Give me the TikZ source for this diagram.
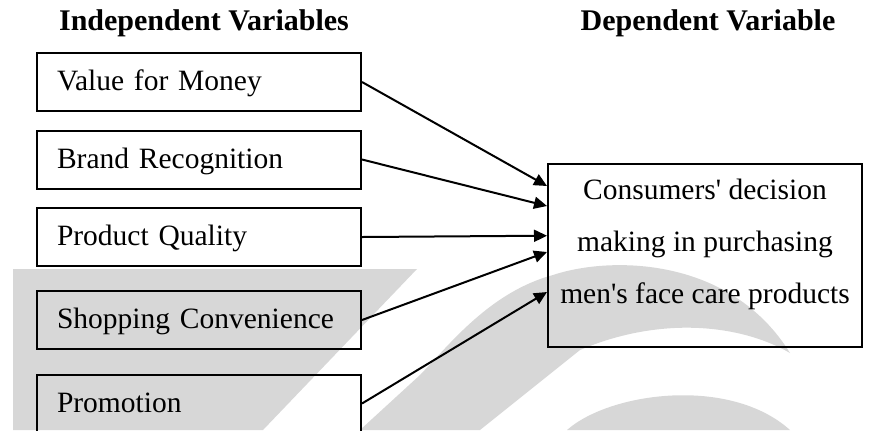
\documentclass[tikz,border=0pt]{standalone}
\usepackage{fontspec}
\setmainfont{Liberation Serif}[Ligatures=TeXOff]
\usepackage{tikz}
\usetikzlibrary{shapes.geometric, arrows.meta, positioning}
\definecolor{wmgray}{HTML}{D7D7D7}
\tikzstyle{varbox} = [rectangle, minimum height=29pt, text width=142pt, inner xsep=10pt, inner ysep=0pt, text height=10pt, text depth=1.3pt, align=left, draw=black, line width=1pt, font=\fontsize{14.75}{18}\selectfont]
\tikzstyle{outcome} = [rectangle, minimum width=157pt, minimum height=91.5pt, text depth=13.8pt, align=center, draw=black, line width=1pt, font=\fontsize{14.75}{26}\selectfont]
\tikzstyle{heading} = [text height=10pt, text depth=3pt, font=\fontsize{15}{18}\selectfont\bfseries]
\tikzstyle{arrow} = [line width=1pt,-{Triangle[length=6.5pt,width=6pt]}]

\begin{document}
\begin{tikzpicture}[node distance=38.75pt]

		\useasboundingbox (0,0) rectangle (439pt,-215pt);
		\clip (0,0) rectangle (439pt,-215pt);

		% watermark
		\fill [wmgray] (6.5pt,-134.5pt) -- (208.5pt,-134.5pt) -- (131.5pt,-215pt) -- (6.5pt,-215pt) -- cycle;
		\fill [wmgray] (180pt,-215pt) -- (210pt,-187.5pt) .. controls (225pt,-172pt) and (245pt,-146pt) .. (276.5pt,-137.5pt)
			.. controls (305pt,-128pt) and (365pt,-128pt) .. (395pt,-176.5pt)
			.. controls (370pt,-162pt) and (330pt,-158pt) .. (290pt,-175pt) -- (240pt,-215pt) -- cycle;
		\fill [wmgray] (283.5pt,-215pt) .. controls (305pt,-196pt) and (365pt,-188pt) .. (395pt,-215pt) -- cycle;

		\node (value) [varbox] at (99.5pt,-41pt) {Value for Money};
		\node (brand) [varbox, below of=value] {Brand Recognition};
		\node (quality) [varbox, below of=brand] {Product Quality};
		\node (convenience) [varbox, below of=quality, yshift=-2.75pt] {Shopping Convenience};
		\node (promotion) [varbox, below of=convenience, yshift=-3pt] {Promotion};
		\node (decision) [outcome, right of=quality, xshift=214.25pt, yshift=-9.25pt] {Consumers' decision\\making in purchasing\\men's face care products};

		\node (indep) [heading, above of=value, xshift=2.5pt, yshift=-9.25pt] {Independent Variables};
		\node (dep) [heading, right of=indep, xshift=213.25pt] {Dependent Variable};

		\draw [arrow] (value.east) -- ([yshift=-11.5pt]decision.north west);
		\draw [arrow] (brand.east) -- ([yshift=-21.5pt]decision.north west);
		\draw [arrow] (quality.east) -- ([yshift=-36.35pt]decision.north west);
		\draw [arrow] (convenience.east) -- ([yshift=-44.5pt]decision.north west);
		\draw [arrow] (promotion.east) -- ([yshift=-64.5pt]decision.north west);

\end{tikzpicture}
\end{document}
